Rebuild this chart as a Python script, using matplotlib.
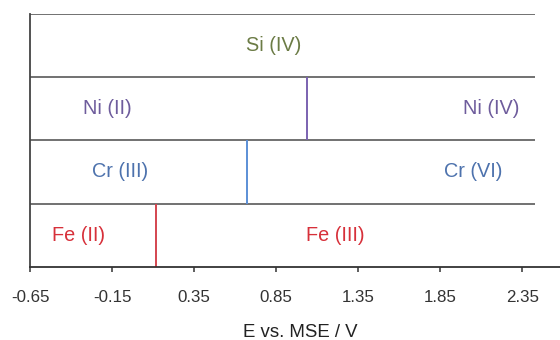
import matplotlib.pyplot as plt
import numpy as np

plt.rcParams['font.family'] = ['Liberation Sans', 'DejaVu Sans']

# Transition potentials (V vs. MSE), one row per element (bottom to top)
elements = ['Fe', 'Cr', 'Ni', 'Si']
transitions = [0.12, 0.67, 1.04, None]
low_labels = ['Fe (II)', 'Cr (III)', 'Ni (II)', None]
high_labels = ['Fe (III)', 'Cr (VI)', 'Ni (IV)', 'Si (IV)']
low_x = [-0.354, -0.103, -0.176, None]
high_x = [1.21, 2.05, 2.16, 0.837]
text_colors = ['#d7303a', '#4d72ad', '#6e5c9c', '#6b7b45']
line_colors = ['#d4454f', '#5b8fd6', '#7b62b0', None]

xticks = [-0.65, -0.15, 0.35, 0.85, 1.35, 1.85, 2.35]
x_end = 2.43

fig = plt.figure(figsize=(5.6, 3.4), dpi=100)
ax = fig.add_axes([30 / 560, 1 - 266.7 / 340, 1 - 30 / 560, 252.7 / 340])

for i, el in enumerate(elements):
    # row boundary line
    ax.hlines(i + 1, -0.65, x_end, color='#666666', lw=1.3)
    if transitions[i] is not None:
        ax.vlines(transitions[i], i, i + 1, color=line_colors[i], lw=1.4)
        ax.text(low_x[i], i + 0.5, low_labels[i], color=text_colors[i],
                fontsize=14.3, ha='center', va='center')
    ax.text(high_x[i], i + 0.5, high_labels[i], color=text_colors[i],
            fontsize=14.3, ha='center', va='center')

ax.set_xlim(-0.65, 2.58)
ax.set_ylim(0, 4)
ax.set_xticks(xticks)
ax.set_xticklabels([f'{t:.2f}' for t in xticks], fontsize=12.2, color='#333333')
ax.set_yticks([])
ax.tick_params(axis='x', direction='out', length=3.6, width=1.1, color='#333333', pad=13.5)
ax.spines['top'].set_visible(False)
ax.spines['right'].set_visible(False)
ax.spines['left'].set_color('#444444')
ax.spines['left'].set_linewidth(1.3)
ax.spines['bottom'].set_color('#333333')
ax.spines['bottom'].set_linewidth(1.3)

ax.set_xlabel('E vs. MSE / V', fontsize=13.4, color='#222222')
ax.xaxis.label.set_va('baseline')
ax.xaxis.set_label_coords((300 - 30) / 530, (266.7 - 337.3) / 252.7)

fig.savefig('out.png', dpi=100)
